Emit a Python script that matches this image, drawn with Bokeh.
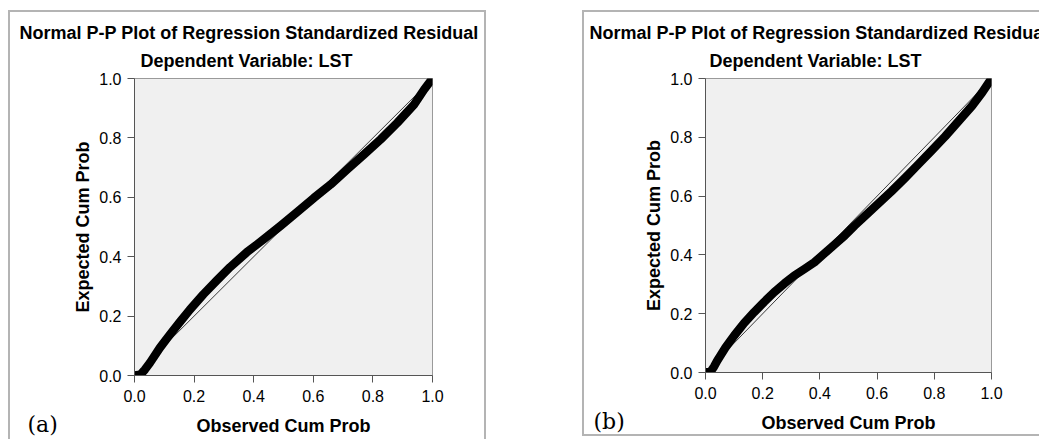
from bokeh.plotting import figure
from bokeh.models import Range1d, FixedTicker, Spacer, Title
from bokeh.layouts import row
from bokeh.embed import file_html
from bokeh.resources import INLINE

# ---- data ----
tick_values = [0.0, 0.2, 0.4, 0.6, 0.8, 1.0]
tick_labels = ["0.0", "0.2", "0.4", "0.6", "0.8", "1.0"]

diag_x = [0.0, 1.0]
diag_y = [0.0, 1.0]

obs_a = [0.0, 0.02, 0.035, 0.052, 0.085, 0.119, 0.153, 0.186, 0.231, 0.276, 0.321,
         0.377, 0.433, 0.489, 0.545, 0.602, 0.658, 0.714, 0.77, 0.826, 0.882,
         0.938, 0.972, 1.0]
exp_a = [0.0, 0.003, 0.02, 0.043, 0.093, 0.138, 0.181, 0.222, 0.273, 0.32, 0.365,
         0.415, 0.458, 0.503, 0.55, 0.598, 0.643, 0.694, 0.744, 0.795, 0.851,
         0.912, 0.963, 1.0]

obs_b = [0.0, 0.018, 0.03, 0.041, 0.07, 0.10, 0.135, 0.17, 0.205, 0.24, 0.276,
         0.311, 0.346, 0.381, 0.416, 0.451, 0.487, 0.522, 0.557, 0.604, 0.651,
         0.698, 0.744, 0.791, 0.838, 0.885, 0.932, 0.967, 1.0]
exp_b = [0.0, 0.003, 0.02, 0.04, 0.085, 0.125, 0.168, 0.205, 0.24, 0.273, 0.303,
         0.33, 0.352, 0.375, 0.405, 0.435, 0.466, 0.5, 0.532, 0.574, 0.617,
         0.662, 0.708, 0.755, 0.803, 0.855, 0.907, 0.952, 1.0]

title_text = "Normal P-P Plot of Regression Standardized Residual"
subtitle_text = "Dependent Variable: LST"
x_label = "Observed Cum Prob"
y_label = "Expected Cum Prob"

SANS = "Liberation Sans"
BORDER = "2px solid #b4b4b4"


def panel(obs, exp, tag, width, height, ml, mr, mt, mb, title_off, sub_off,
          tag_off, tag_standoff, styles):
    p = figure(width=width, height=height, output_backend="svg",
               toolbar_location=None, x_range=Range1d(0, 1), y_range=Range1d(0, 1),
               min_border_left=ml, min_border_right=mr, min_border_top=mt,
               min_border_bottom=mb, background_fill_color="#f0f0f0",
               border_fill_color="white", outline_line_color="#9a9a9a",
               outline_line_width=1, styles=styles)
    p.grid.visible = False
    for ax in (p.xaxis[0], p.yaxis[0]):
        ax.ticker = FixedTicker(ticks=tick_values)
        ax.major_label_overrides = dict(zip(tick_values, tick_labels))
        ax.minor_tick_line_color = None
        ax.major_tick_in = 0
        ax.major_tick_out = 7
        ax.major_tick_line_color = "#555555"
        ax.axis_line_color = "#555555"
        ax.major_label_text_font = SANS
        ax.major_label_text_font_size = "16px"
        ax.major_label_text_color = "black"
        ax.axis_label_text_font = SANS
        ax.axis_label_text_font_size = "18px"
        ax.axis_label_text_font_style = "bold"
        ax.axis_label_text_color = "black"
    p.xaxis.axis_label = x_label
    p.yaxis.axis_label = y_label
    p.xaxis.major_label_standoff = 7
    p.xaxis.axis_label_standoff = 11
    p.yaxis.major_label_standoff = 6
    p.yaxis.axis_label_standoff = 3

    p.line(diag_x, diag_y, line_color="#3a3a3a", line_width=1)
    p.line(obs, exp, line_color="black", line_width=8.5, line_cap="round",
           line_join="round")

    p.add_layout(Title(text=subtitle_text, text_font=SANS, text_font_size="18px",
                       text_font_style="bold", text_color="black", align="left",
                       offset=sub_off, standoff=16), "above")
    p.add_layout(Title(text=title_text, text_font=SANS, text_font_size="18px",
                       text_font_style="bold", text_color="black", align="left",
                       offset=title_off, standoff=-5), "above")

    # panel tag, placed in the bottom side panel beside the x-axis label
    p.add_layout(Title(text=tag, text_font="DejaVu Serif", text_font_size="22px",
                       text_font_style="normal", text_color="black", align="left",
                       vertical_align="top", offset=tag_off,
                       standoff=tag_standoff), "below")
    return p


pa = panel(obs_a, exp_a, "(a)", 478, 429, 124, 56, 66, 66,
           -115, 6, -107, -53,
           {"border-top": BORDER, "border-left": BORDER, "border-right": BORDER})
pb = panel(obs_b, exp_b, "(b)", 457, 426, 121, 50, 65, 66,
           -116, 4, -112, -54,
           {"border-top": BORDER, "border-left": BORDER, "border-bottom": BORDER})

pa.margin = (2, 0, 0, 0)
pb.margin = (2, 0, 0, 0)

layout = row(pa, Spacer(width=96), pb)
layout.margin = (8, 0, 0, 8)

open("out.html", "w").write(file_html(layout, INLINE))
